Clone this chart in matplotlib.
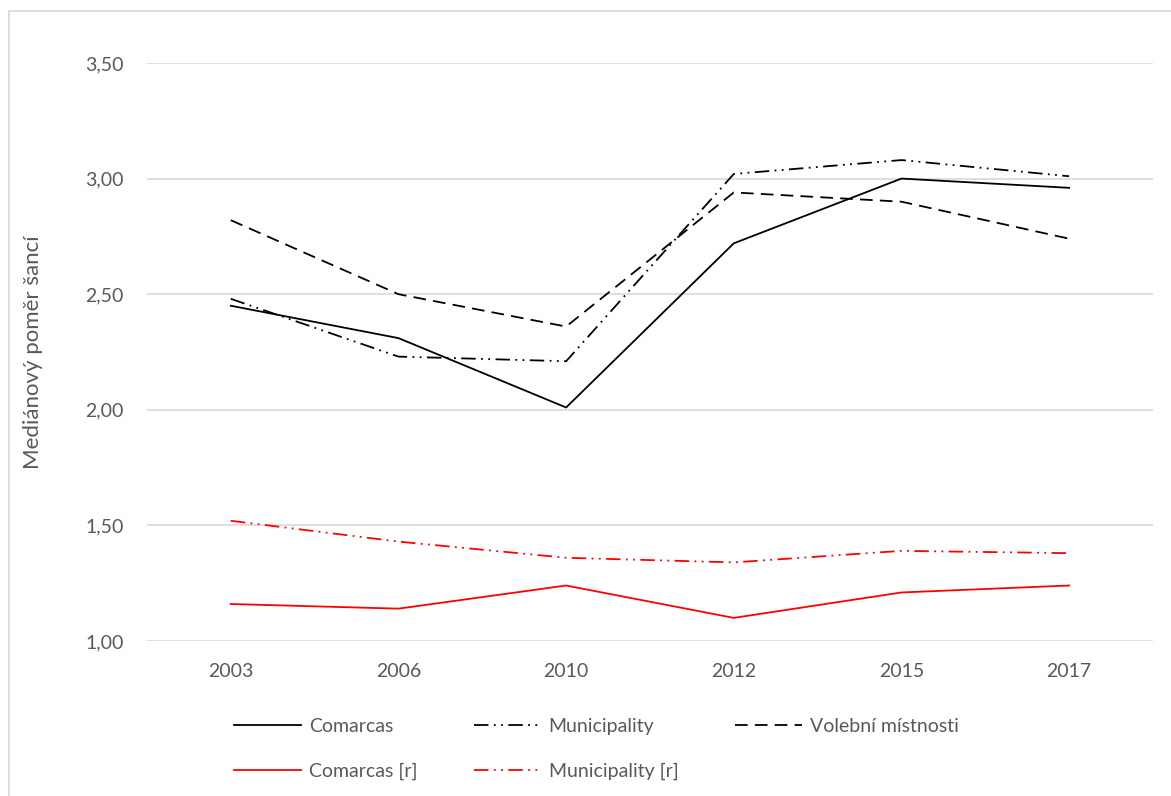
import matplotlib
matplotlib.use("Agg")
import matplotlib.pyplot as plt
from matplotlib.lines import Line2D
from matplotlib.ticker import FuncFormatter

plt.rcParams['font.family'] = ['Lato', 'DejaVu Sans']

years = ['2003', '2006', '2010', '2012', '2015', '2017']
comarcas = [2.45, 2.31, 2.01, 2.72, 3.00, 2.96]
municipality = [2.48, 2.23, 2.21, 3.02, 3.08, 3.01]
volebni = [2.82, 2.50, 2.36, 2.94, 2.90, 2.74]
comarcas_r = [1.16, 1.14, 1.24, 1.10, 1.21, 1.24]
municipality_r = [1.52, 1.43, 1.36, 1.34, 1.39, 1.38]

txt = '#595959'
dashdotdot = (0, (8, 3, 1, 3, 1, 3))
dashed = (0, (7, 4))

fig = plt.figure(figsize=(11.71, 7.96), dpi=100)
ax = fig.add_axes([0.1255, 0.1947, 0.8591, 0.7262])

x = range(len(years))
lw = 1.3
h_c, = ax.plot(x, comarcas, color='black', lw=lw, label='Comarcas')
h_m, = ax.plot(x, municipality, color='black', lw=lw, ls=dashdotdot, label='Municipality')
h_v, = ax.plot(x, volebni, color='black', lw=lw, ls=dashed, label='Volební místnosti')
h_cr, = ax.plot(x, comarcas_r, color='#ff0000', lw=lw, label='Comarcas [r]')
h_mr, = ax.plot(x, municipality_r, color='#ff0000', lw=lw, ls=dashdotdot, label='Municipality [r]')

ax.set_xlim(-0.5, len(years) - 0.5)
ax.set_ylim(1.0, 3.5)
ax.set_yticks([1.0, 1.5, 2.0, 2.5, 3.0, 3.5])
ax.yaxis.set_major_formatter(FuncFormatter(lambda v, p: f'{v:.2f}'.replace('.', ',')))
ax.set_xticks(list(x))
ax.set_xticklabels(years)
ax.grid(axis='y', color='#d9d9d9', lw=1.2)
ax.set_axisbelow(True)
for s in ax.spines.values():
    s.set_visible(False)
ax.tick_params(length=0, labelsize=14, colors=txt)
ax.tick_params(axis='x', pad=16)
ax.tick_params(axis='y', pad=17)
ax.set_ylabel('Mediánový poměr šancí', fontsize=16, color=txt, labelpad=30)

fig.legend(handles=[h_c, h_cr, h_m, h_mr, h_v], ncol=3, frameon=False,
           loc='center left', bbox_to_anchor=(0.185, 0.059), fontsize=14,
           labelcolor=txt, handlelength=3.45, handletextpad=0.4,
           columnspacing=2.9, labelspacing=1.4)

# outer chart border (left and top visible)
fig.add_artist(Line2D([0.0075, 0.0075], [0, 0.986], color='#d9d9d9', lw=1.2))
fig.add_artist(Line2D([0.0075, 1.0], [0.986, 0.986], color='#d9d9d9', lw=1.2))

fig.savefig('out.png', dpi=100)
